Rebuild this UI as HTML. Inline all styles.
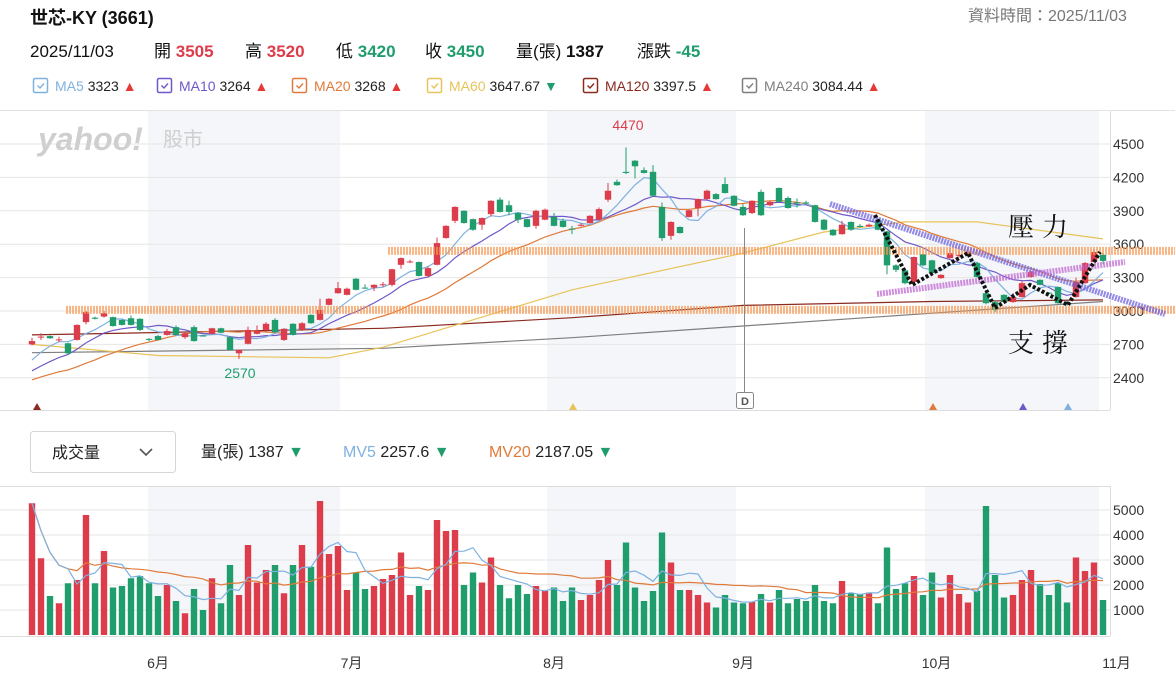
<!DOCTYPE html>
<html><head><meta charset="utf-8">
<style>
html,body{margin:0;padding:0;background:#fff;}
svg{display:block;font-family:"Liberation Sans","Noto Sans CJK TC",sans-serif;}
</style></head>
<body>
<svg id="chart" width="1175" height="691" viewBox="0 0 1175 691" xmlns="http://www.w3.org/2000/svg">
  <g>
    <text x="30" y="24" font-size="18" font-weight="bold" fill="#111">世芯-KY (3661)</text>
    <text x="968" y="21" font-size="16" fill="#777">資料時間：2025/11/03</text>
    <g font-size="17">
      <text x="30" y="57" fill="#111">2025/11/03</text>
      <text x="154" y="57" fill="#111">開 <tspan fill="#dd3c4a" font-weight="bold">3505</tspan></text>
      <text x="245" y="57" fill="#111">高 <tspan fill="#dd3c4a" font-weight="bold">3520</tspan></text>
      <text x="336" y="57" fill="#111">低 <tspan fill="#1f9d6d" font-weight="bold">3420</tspan></text>
      <text x="425" y="57" fill="#111">收 <tspan fill="#1f9d6d" font-weight="bold">3450</tspan></text>
      <text x="516" y="57" fill="#111">量(張) <tspan font-weight="bold">1387</tspan></text>
      <text x="637" y="57" fill="#111">漲跌 <tspan fill="#1f9d6d" font-weight="bold">-45</tspan></text>
    </g>
    <g id="legend" font-size="14"></g>
    <line x1="0" y1="110.5" x2="1175" y2="110.5" stroke="#e3e3e3"/>
  </g>
  <g id="price"></g>
  <g id="volume"></g>
  <g>
    <rect x="30.5" y="431.5" width="145" height="41" rx="3" fill="#fff" stroke="#d6d6d6"/>
    <text x="52" y="458" font-size="16" fill="#222">成交量</text>
    <path d="M140 449 l6 6 l6 -6" fill="none" stroke="#555" stroke-width="1.6"/>
  </g>
  <g font-size="16">
    <text x="201" y="457" fill="#222">量(張) 1387 <tspan fill="#1f9d6d">▼</tspan></text>
    <text x="343" y="457" fill="#7fb1e0">MV5 <tspan fill="#222">2257.6 </tspan><tspan fill="#1f9d6d">▼</tspan></text>
    <text x="489" y="457" fill="#e07a3a">MV20 <tspan fill="#222">2187.05 </tspan><tspan fill="#1f9d6d">▼</tspan></text>
  </g>
</svg>
<script>
const opens=[2700,2765,2775,2740,2710,2740,2900,2940,2950,2945,2920,2935,2930,2750,2775,2785,2855,2765,2855,2780,2795,2845,2765,2620,2705,2795,2830,2920,2740,2885,2830,2965,2920,3055,3160,3145,3290,3210,3210,3235,3235,3415,3440,3440,3315,3415,3655,3810,3900,3825,3775,3870,4000,3950,3880,3825,3765,3820,3845,3810,3740,3765,3790,3820,4000,4160,4250,4350,4265,4250,3935,3675,3755,3845,3925,4005,4050,4140,4035,3935,3880,4070,3950,4105,4015,3975,3975,3950,3820,3730,3690,3800,3765,3760,3815,3715,3410,3365,3260,3510,3455,3295,3475,3500,3500,3430,3160,3080,3145,3080,3125,3305,3280,3165,3215,3080,3125,3250,3440,3505];
const highs=[2760,2800,2780,2770,2715,2880,3000,2950,3000,2950,2925,2960,2935,2755,2785,2840,2870,2810,2870,2785,2850,2850,2770,2655,2860,2870,2900,2935,2845,2890,2900,2970,3110,3115,3260,3210,3295,3240,3240,3260,3380,3480,3460,3445,3400,3660,3770,3940,3905,3830,3840,3995,4020,3990,3885,3830,3910,3920,3880,3830,3765,3790,3860,3930,4150,4180,4470,4355,4290,4310,3975,3805,3760,3910,4010,4090,4060,4200,4040,3960,3995,4090,3990,4110,4030,4010,3990,3955,3825,3735,3810,3805,3780,3785,3830,3720,3420,3370,3490,3515,3460,3330,3570,3540,3550,3440,3170,3090,3150,3160,3270,3360,3285,3170,3220,3090,3300,3440,3550,3520];
const lows=[2690,2740,2750,2720,2610,2735,2880,2925,2940,2860,2870,2870,2820,2730,2735,2780,2780,2750,2725,2770,2790,2800,2645,2570,2700,2790,2810,2805,2730,2780,2820,2885,2915,3050,3155,3140,3185,3200,3180,3215,3220,3380,3430,3310,3300,3410,3650,3790,3785,3720,3730,3850,3885,3860,3790,3750,3740,3815,3760,3750,3690,3760,3785,3815,3980,4125,4230,4190,4235,4030,3630,3640,3695,3840,3850,4000,4000,4055,3940,3855,3870,3855,3940,3975,3920,3930,3960,3795,3725,3675,3685,3720,3750,3755,3725,3330,3350,3240,3255,3400,3320,3290,3470,3480,3495,3300,3060,2990,3075,3075,3120,3300,3230,3150,3065,3050,3120,3245,3435,3420];
const closes=[2730,2770,2755,2745,2620,2875,2990,2930,2980,2865,2875,2875,2830,2745,2740,2820,2785,2800,2730,2775,2845,2805,2650,2650,2830,2820,2885,2810,2840,2785,2890,2890,3010,3110,3205,3200,3190,3205,3235,3240,3375,3475,3445,3315,3385,3610,3765,3935,3790,3730,3835,3990,3890,3890,3820,3755,3900,3910,3765,3755,3735,3775,3855,3915,4080,4130,4240,4300,4240,4035,3655,3800,3700,3905,4005,4080,4005,4060,3945,3860,3990,3860,3980,3980,3925,3965,3970,3800,3730,3680,3775,3730,3755,3775,3730,3410,3370,3250,3485,3410,3340,3325,3520,3505,3530,3305,3070,3010,3080,3125,3250,3350,3235,3160,3070,3055,3260,3430,3530,3450];
const volumes=[5270,3070,1560,1270,2070,2200,4800,2070,3360,1900,1960,2270,2360,2070,1560,2000,1360,870,1840,1000,2270,1270,2800,1600,3600,2100,2600,2800,1670,2800,3600,2730,5360,3240,3560,1800,2500,1840,1960,2240,2400,3300,1600,1960,1800,4600,4160,4200,2000,2500,2100,3100,2000,1470,2000,1640,1960,1770,1900,1360,1900,1400,1600,2200,3000,2000,3700,1900,1360,1760,4100,2900,1800,1800,1600,1300,1100,1600,1300,1270,1330,1640,1300,1800,1270,1440,1360,2000,1360,1270,2160,1670,1630,1700,1270,3500,1840,2070,2360,1600,2500,1500,2400,1640,1300,1770,5160,2400,1500,1600,2200,2600,2040,1600,2070,1300,3100,2560,2900,1400];
const priorCloses=[2250,2280,2300,2280,2320,2350,2330,2300,2290,2310,2340,2360,2380,2350,2400,2420,2480,2550,2620];
const ma60Idx=[0,14,33,39,60,79,88,97,105,119];
const ma60Val=[2700,2600,2580,2675,3190,3520,3710,3800,3800,3648];
const ma120Idx=[0,39,60,79,100,119];
const ma120Val=[2785,2845,2940,3050,3085,3100];
const ma240Idx=[0,39,60,79,100,119];
const ma240Val=[2625,2665,2760,2865,2980,3085];
const priceTicks=[4500,4200,3900,3600,3300,3000,2700,2400];
const volTicks=[5000,4000,3000,2000,1000];
const monthLabels=["6月","7月","8月","9月","10月","11月"];
const monthIdx=[14,35.5,58,79,100.5,120.5];

const NS="http://www.w3.org/2000/svg";
const RED="#dd3c4a",GREEN="#1f9d6d",GRAY="#666";
const X0=32,DX=9.0;
const xs=i=>X0+DX*i;
const py=p=>311-(p-3000)*0.11133;
const vy=v=>635-v*0.025;
function mk(tag,attrs,parent){const e=document.createElementNS(NS,tag);for(const k in attrs)e.setAttribute(k,attrs[k]);parent.appendChild(e);return e;}

const leg=document.getElementById('legend');
const legItems=[["MA5","3323","▲","#7fb1e0",33],["MA10","3264","▲","#7058c8",157],["MA20","3268","▲","#e07a3a",292],["MA60","3647.67","▼","#e8c35a",427],["MA120","3397.5","▲","#8b2a1f",583],["MA240","3084.44","▲","#7f7f7f",742]];
legItems.forEach(it=>{
  const g=mk('g',{},leg);
  
  
  mk('rect',{x:it[4]+0.5,y:78.5,width:14,height:14,rx:1.5,fill:'#fff',stroke:it[3],'stroke-width':1.5},g);
  mk('path',{d:`M${it[4]+4.5} 85.5 l2.5 2.5 l4 -4.5`,fill:'none',stroke:it[3],'stroke-width':1.4},g);
  const t=mk('text',{x:it[4]+22,y:91,fill:it[3]},g);t.textContent=it[0]+' ';
  const v=mk('tspan',{fill:'#222'},t);v.textContent=it[1]+' ';
  const a=mk('tspan',{fill:it[2]==='▲'?'#e53935':GREEN},t);a.textContent=it[2];
});

const P=document.getElementById('price');
[[148,340],[547,736],[925,1099]].forEach(b=>{const r=mk('rect',{x:b[0],y:111,width:b[1]-b[0],height:299,fill:'#f4f6f9'},P);});
mk('line',{x1:0,y1:410.5,x2:1110,y2:410.5,stroke:'#ddd'},P);
mk('line',{x1:1110.5,y1:111,x2:1110.5,y2:410,stroke:'#ddd'},P);
priceTicks.forEach(t=>{
  mk('line',{x1:0,y1:py(t),x2:1110,y2:py(t),stroke:'#e6e6e6'},P);
  const tx=mk('text',{x:1113,y:py(t)+5,'font-size':14,fill:'#333'},P);tx.textContent=t;
  
});
const wm=mk('text',{x:38,y:150,'font-size':32,'font-weight':'bold','font-style':'italic',fill:'#cfcfcf'},P);wm.textContent='yahoo!';

const wm2=mk('text',{x:163,y:146,'font-size':20,fill:'#cfcfcf'},P);wm2.textContent='股市';


function ma(arr,n,prior){const all=prior.concat(arr);const off=prior.length;return arr.map((_,i)=>{const j=i+off;const s=Math.max(0,j-n+1);let sum=0;for(let k=s;k<=j;k++)sum+=all[k];return sum/(j-s+1);});}
function line(vals,yf,color,w,parent,name){const d=vals.map((v,i)=>(i?'L':'M')+xs(i).toFixed(1)+' '+yf(v).toFixed(1)).join(' ');const p=mk('path',{d:d,fill:'none',stroke:color,'stroke-width':w},parent);}
function knotLine(idx,vals,color,name){const d=idx.map((k,i)=>(i?'L':'M')+xs(k).toFixed(1)+' '+py(vals[i]).toFixed(1)).join(' ');const p=mk('path',{d:d,fill:'none',stroke:color,'stroke-width':1.2},P);}
knotLine(ma240Idx,ma240Val,'#7f7f7f','ma240-line');
knotLine(ma120Idx,ma120Val,'#8b2a1f','ma120-line');
knotLine(ma60Idx,ma60Val,'#e8c35a','ma60-line');
line(ma(closes,20,priorCloses),py,'#e07a3a',1.2,P,'ma20-line');
line(ma(closes,10,priorCloses),py,'#7058c8',1.2,P,'ma10-line');
line(ma(closes,5,priorCloses),py,'#7fb1e0',1.2,P,'ma5-line');

closes.forEach((c,i)=>{
  const o=opens[i];const col=c>o?RED:(c<o?GREEN:GRAY);
  const g=mk('g',{},P);
  
  
  mk('line',{x1:xs(i),y1:py(highs[i]),x2:xs(i),y2:py(lows[i]),stroke:col,'stroke-width':1},g);
  const t=py(Math.max(o,c)),b=py(Math.min(o,c));
  mk('rect',{x:xs(i)-3.2,y:t,width:6.4,height:Math.max(1,b-t),fill:col},g);
});

const A=mk('g',{},P);


mk('line',{x1:388,y1:py(3540),x2:1175,y2:py(3540),stroke:'#f79a55','stroke-width':8,'stroke-dasharray':'2 1',opacity:0.7},A);
mk('line',{x1:66,y1:py(3010),x2:1175,y2:py(3010),stroke:'#f79a55','stroke-width':8,'stroke-dasharray':'2 1',opacity:0.7},A);
mk('line',{x1:830,y1:204,x2:1165,y2:314,stroke:'#6f63dd','stroke-width':6,'stroke-dasharray':'2 1',opacity:0.75},A);
mk('line',{x1:877,y1:294,x2:1125,y2:262,stroke:'#c06ad2','stroke-width':6,'stroke-dasharray':'2 1',opacity:0.75},A);
mk('polyline',{points:'875,215 912,285 968,253 995,308 1030,285 1068,305 1100,252',fill:'none',stroke:'#111','stroke-width':4,'stroke-dasharray':'3 2'},A);
const t1=mk('text',{x:1008,y:236,'font-size':26,fill:'#111','font-family':'"Noto Serif CJK SC","Liberation Serif",serif','letter-spacing':'8'},A);t1.textContent='壓力';

const t2=mk('text',{x:1008,y:352,'font-size':26,fill:'#111','font-family':'"Noto Serif CJK SC","Liberation Serif",serif','letter-spacing':'8'},A);t2.textContent='支撐';


const hi=mk('text',{x:628,y:130,'font-size':14,fill:RED,'text-anchor':'middle'},P);hi.textContent='4470';

const lo=mk('text',{x:240,y:378,'font-size':14,fill:GREEN,'text-anchor':'middle'},P);lo.textContent='2570';

mk('line',{x1:744.5,y1:228,x2:744.5,y2:392,stroke:'#888','stroke-width':1},P);
const dm=mk('g',{},P);


mk('rect',{x:736.5,y:392.5,width:17,height:16,rx:2,fill:'#fff',stroke:'#888'},dm);
const dt=mk('text',{x:745,y:405,'font-size':11,'font-weight':'bold',fill:'#555','text-anchor':'middle'},dm);dt.textContent='D';
[[37,'#8b2a1f'],[573,'#e8c35a'],[933,'#e07a3a'],[1023,'#7058c8'],[1068,'#7fb1e0']].forEach(m=>{
  const tr=mk('path',{d:`M${m[0]-4} 410 L${m[0]} 403 L${m[0]+4} 410 Z`,fill:m[1]},P);
  
});

const V=document.getElementById('volume');
[[148,340],[547,736],[925,1099]].forEach(b=>{const r=mk('rect',{x:b[0],y:487,width:b[1]-b[0],height:149,fill:'#f4f6f9'},V);});
mk('line',{x1:0,y1:486.5,x2:1110,y2:486.5,stroke:'#ddd'},V);
mk('line',{x1:1110.5,y1:486,x2:1110.5,y2:636,stroke:'#ddd'},V);
mk('line',{x1:0,y1:636.5,x2:1110,y2:636.5,stroke:'#ddd'},V);
volTicks.forEach(t=>{
  mk('line',{x1:0,y1:vy(t),x2:1110,y2:vy(t),stroke:'#e6e6e6'},V);
  const tx=mk('text',{x:1113,y:vy(t)+5,'font-size':14,fill:'#333'},V);tx.textContent=t;
  
});
volumes.forEach((v,i)=>{
  const c=closes[i],o=opens[i];const col=c>o?RED:(c<o?GREEN:GRAY);
  const r=mk('rect',{x:xs(i)-3.2,y:vy(v),width:6.4,height:635-vy(v),fill:col},V);
  
  
});
line(ma(volumes,20,[]),vy,'#e07a3a',1.2,V,'mv20-line');
line(ma(volumes,5,[]),vy,'#7fb1e0',1.2,V,'mv5-line');
monthLabels.forEach((m,i)=>{
  const t=mk('text',{x:xs(monthIdx[i]),y:668,'font-size':14,fill:'#333','text-anchor':'middle'},V);t.textContent=m;
  
});
</script>
</body></html>
